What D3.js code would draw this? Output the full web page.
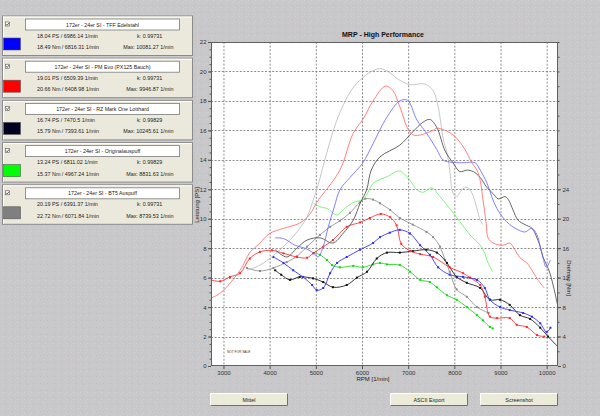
<!DOCTYPE html>
<html><head><meta charset="utf-8">
<script src="https://cdn.jsdelivr.net/npm/d3@7"></script>
<style>body{margin:0;background:#c9c8ca;} svg{display:block} text{font-family:"Liberation Sans",Arial,sans-serif;}</style>
</head><body><svg id="c" width="600" height="416"></svg>
<script>
// ---------- DATA ----------
const chartTitle = "MRP - High Performance";
const xTicks = [3000,4000,5000,6000,7000,8000,9000,10000];
const yLeftTicks = [0,2,4,6,8,10,12,14,16,18,20,22];
const yRightTicks = [0,4,8,12,16,20,24];

const legendTitles = ["172er - 24er SI - TFF Edelstahl","172er - 24er SI - PM Evo (PX125 Bauch)","172er - 24er SI - RZ Mark One Lotthard","172er - 24er SI - Originalauspuff","172er - 24er SI - BT5 Auspuff"];
const legendPS = ["18.04 PS / 6986.14 1/min","19.01 PS / 6509.39 1/min","16.74 PS / 7470.5 1/min","13.24 PS / 6811.02 1/min","20.19 PS / 6391.37 1/min"];
const legendK = ["k: 0.99731","k: 0.99731","k: 0.99829","k: 0.99829","k: 0.99731"];
const legendNm = ["18.49 Nm / 6816.31 1/min","20.66 Nm / 6408.98 1/min","15.79 Nm / 7393.61 1/min","15.37 Nm / 4967.24 1/min","22.72 Nm / 6071.84 1/min"];
const legendMax = ["Max: 10081.27 1/min","Max: 9946.87 1/min","Max: 10245.61 1/min","Max: 8831.63 1/min","Max: 8739.53 1/min"];
const buttonLabels = ["Mittel","ASCII Export","Screenshot"];

// power curves [rpm, PS]
const bluePowerRpm = [4120,4300,4550,4760,4940,5050,5160,5270,5400,5520,5740,6020,6240,6540,6820,6986,7190,7400,7620,7750,7900,8190,8450,8560,8710,8810,8920,9060,9200,9380,9530,9680,9790,9860,9920,9990,10081];
const bluePowerPS  = [8.7,8.65,8.2,8.0,7.7,7.4,8.1,9.45,10.8,11.95,12.8,13.8,15.1,16.9,18.0,18.04,16.7,15.8,14.7,14.0,13.85,13.8,13.8,13.3,12.4,11.5,10.7,10.05,9.6,9.25,9.1,9.35,8.9,8.1,7.35,6.7,7.2];
const redPowerRpm = [2730,2950,3360,3570,3790,4000,4300,4650,4870,5020,5520,5810,6030,6240,6509,6670,6820,7100,7540,7620,7970,8230,8380,8490,8560,8620,8690,8730,8840,9060,9200,9310,9420,9570,9700,9820,9947];
const redPowerPS  = [4.6,5.0,6.5,7.7,8.35,9.0,9.35,9.7,10.3,11.1,13.3,15.8,16.8,18.0,19.01,18.7,17.6,15.7,16.0,16.15,15.7,14.7,13.8,13.3,12.6,11.3,9.7,8.7,8.35,8.2,8.35,7.9,7.35,7.0,6.4,5.8,5.3];
const blackPowerRpm = [4120,4370,4590,4810,5090,5370,5590,5810,5960,6100,6200,6390,6820,7100,7320,7470,7620,7800,7970,8120,8270,8410,8560,8700,8840,8950,9100,9170,9270,9380,9530,9680,9790,9860,9920,10000,10070,10180,10245];
const blackPowerPS  = [7.9,7.4,8.0,8.55,8.7,8.35,9.0,9.9,11.05,11.95,13.3,14.2,15.0,15.9,16.55,16.74,16.2,14.6,13.8,13.2,13.3,13.2,12.8,12.15,11.7,11.35,11.5,11.3,10.6,9.9,9.6,9.35,8.7,8.1,7.4,6.85,6.3,4.95,4.0];
const greenPowerRpm = [4950,5100,5240,5460,5590,5810,6020,6100,6240,6540,6811,7040,7190,7330,7510,7690,7900,8120,8340,8560,8660,8730,8832];
const greenPowerPS  = [11.05,10.8,10.7,10.25,10.6,11.1,11.3,11.6,12.4,12.85,13.24,12.6,11.95,11.8,12.1,11.5,10.7,9.8,8.9,8.2,7.65,7.0,6.4];
const grayPowerRpm = [3510,3790,4080,4440,4650,4810,4920,5050,5240,5520,5890,6391,6820,7040,7360,7540,7650,7760,7840,7900,7970,8050,8160,8270,8380,8490,8560,8620];
const grayPowerPS  = [6.5,6.85,7.5,8.55,9.35,10.1,11.05,12.3,14.5,17.2,19.2,20.19,19.4,19.1,19.15,18.7,17.6,15.4,14.5,13.3,11.75,11.5,11.95,12.15,11.75,10.7,9.9,9.6];

// torque curves [rpm, Nm]
const blueTorqueRpm = [4080,4300,4510,4720,4920,5020,5160,5310,5460,5670,5960,6240,6390,6600,6816,7040,7260,7470,7650,7900,8190,8490,8660,8770,8990,9200,9490,9680,9860,10000,10081];
const blueTorqueNm  = [14.8,14.0,13.0,12.1,11.0,10.3,10.6,12.6,14.0,14.8,15.8,16.7,17.5,18.1,18.49,18.0,16.4,15.1,13.4,12.4,12.1,11.7,10.6,9.0,8.0,7.6,7.2,6.7,5.8,4.6,5.2];
const redTorqueRpm = [2730,2930,3140,3360,3570,3790,4050,4300,4590,4810,4940,5160,5370,5670,5960,6170,6409,6610,6750,6850,7050,7260,7540,7900,8190,8340,8560,8660,8770,8920,9200,9350,9570,9790,9947];
const redTorqueNm  = [11.7,11.5,12.1,12.6,14.6,15.5,15.7,15.3,14.8,14.7,15.3,16.2,17.1,18.9,19.5,20.1,20.66,20.2,19.1,16.6,15.6,15.2,14.8,13.4,12.6,12.0,11.0,9.4,6.7,6.5,6.5,5.6,5.3,4.2,4.0];
const blackTorqueRpm = [4120,4250,4440,4650,4940,5160,5370,5670,5890,6110,6320,6540,6820,7100,7393,7620,7840,8050,8270,8560,8770,8990,9200,9420,9640,9860,10030,10245];
const blackTorqueNm  = [13.0,12.4,11.7,12.1,11.9,11.4,10.7,11.0,12.0,12.8,14.6,15.4,15.4,15.6,15.79,15.4,14.0,12.1,11.3,10.6,9.0,9.0,8.3,6.9,6.4,5.2,4.0,2.6];
const greenTorqueRpm = [4967,5090,5240,5350,5520,5810,6020,6240,6390,6540,6820,7040,7260,7470,7620,7840,8050,8270,8490,8620,8770,8832];
const greenTorqueNm  = [15.37,15.1,14.4,13.7,13.4,13.6,13.4,13.8,14.0,13.8,13.7,12.8,11.7,11.4,10.7,9.6,9.0,8.0,6.9,6.2,5.3,5.1];
const grayTorqueRpm = [3510,3790,4080,4370,4590,4810,5090,5310,5520,5740,5950,6072,6240,6390,6610,6820,7100,7400,7540,7690,7800,7900,8050,8270,8490,8740];
const grayTorqueNm  = [13.3,12.9,13.3,14.1,14.9,16.2,17.8,18.9,19.7,20.8,22.2,22.72,22.6,22.1,21.2,20.1,19.2,18.2,17.5,16.2,14.4,12.8,10.4,9.4,8.0,7.2];

// ---------- STYLE ----------
const swatchColors = ["#0000ff","#ff0000","#000020","#00ff00","#7f7f7f"];
const powerColors  = ["#6a6aff","#ff6a6a","#4a4a4a","#6aee6a","#bcbcbc"];
const torqueColors = ["#2a2aff","#ff2a2a","#111111","#10d810","#8c8c8c"];

const svg = d3.select("#c");
const W=600,H=416;
const P = {l:211, r:558, t:42, b:366};

// background with speckle texture
const defs = svg.append("defs");
const pat = defs.append("pattern").attr("id","speck").attr("width",7).attr("height",7).attr("patternUnits","userSpaceOnUse");
pat.append("rect").attr("width",7).attr("height",7).attr("fill","#c8c7c9");
pat.append("rect").attr("x",1).attr("y",2).attr("width",1).attr("height",1).attr("fill","#d8ccd8");
pat.append("rect").attr("x",5).attr("y",5).attr("width",1).attr("height",1).attr("fill","#bdbdbd");
pat.append("rect").attr("x",3).attr("y",0).attr("width",1).attr("height",1).attr("fill","#d4d0d4");
svg.append("rect").attr("width",W).attr("height",H).attr("fill","url(#speck)");

const x = d3.scaleLinear().domain([2730,10245]).range([P.l,P.r]);
const yL = d3.scaleLinear().domain([0,22]).range([P.b,P.t]);
const yR = d3.scaleLinear().domain([0,44]).range([P.b,P.t]);

// plot area
svg.append("rect").attr("x",P.l).attr("y",P.t).attr("width",P.r-P.l).attr("height",P.b-P.t).attr("fill","#fff");
defs.append("clipPath").attr("id","clip").append("rect").attr("x",P.l).attr("y",P.t).attr("width",P.r-P.l).attr("height",P.b-P.t);

// grid
const grid = svg.append("g").attr("stroke","#707070").attr("stroke-width",0.8).attr("stroke-dasharray","2,1.6");
grid.selectAll("line.v").data(xTicks).join("line").attr("x1",d=>x(d)+0.5).attr("x2",d=>x(d)+0.5).attr("y1",P.t).attr("y2",P.b);
grid.selectAll("line.h").data(yLeftTicks.filter(d=>d>0&&d<22)).join("line").attr("y1",d=>Math.round(yL(d))+0.5).attr("y2",d=>Math.round(yL(d))+0.5).attr("x1",P.l).attr("x2",P.r);

// curves
const line = d3.line().x(d=>x(d[0])).y(d=>d[1]).curve(d3.curveCatmullRom.alpha(0.5));
const zip = (a,b,f)=>a.map((v,i)=>[v,f(b[i])]);
const power = [[bluePowerRpm,bluePowerPS],[redPowerRpm,redPowerPS],[blackPowerRpm,blackPowerPS],[greenPowerRpm,greenPowerPS],[grayPowerRpm,grayPowerPS]];
const torque = [[blueTorqueRpm,blueTorqueNm],[redTorqueRpm,redTorqueNm],[blackTorqueRpm,blackTorqueNm],[greenTorqueRpm,greenTorqueNm],[grayTorqueRpm,grayTorqueNm]];
const cg = svg.append("g").attr("clip-path","url(#clip)");
const order = [4,3,2,1,0];
order.forEach(i=>{
  const pts = zip(torque[i][0],torque[i][1],yR);
  cg.append("path").attr("d",line(pts)).attr("fill","none").attr("stroke",torqueColors[i]).attr("stroke-width",0.85);
  cg.selectAll(null).data(pts).join("rect").attr("x",d=>x(d[0])-1).attr("y",d=>d[1]-1).attr("width",2).attr("height",2).attr("fill",torqueColors[i]);
});
order.forEach(i=>{
  const pts = zip(power[i][0],power[i][1],yL);
  cg.append("path").attr("d",line(pts)).attr("fill","none").attr("stroke",powerColors[i]).attr("stroke-width",0.85);
});

// border
svg.append("rect").attr("x",P.l+0.5).attr("y",P.t+0.5).attr("width",P.r-P.l-1).attr("height",P.b-P.t-1).attr("fill","none").attr("stroke","#606060");

// axes
const axStyle = g=>{g.selectAll("path").attr("stroke","#555"); g.selectAll("line").attr("stroke","#555"); g.selectAll("text").attr("font-size","6px").attr("fill","#333").attr("font-family","Liberation Sans, Arial, sans-serif");};
svg.append("g").attr("transform",`translate(${P.l},0)`).call(d3.axisLeft(yL).tickValues(yLeftTicks).tickSize(3).tickPadding(1.5)).call(axStyle).call(g=>g.select(".domain").remove());
svg.append("g").attr("transform",`translate(${P.l},0)`).call(d3.axisLeft(yL).tickValues(d3.range(0,22.01,0.5)).tickSize(1.5).tickFormat("")).call(axStyle).call(g=>g.select(".domain").remove());
svg.append("g").attr("transform",`translate(${P.r},0)`).call(d3.axisRight(yR).tickValues(yRightTicks).tickSize(3).tickPadding(1.5)).call(axStyle).call(g=>g.select(".domain").remove());
svg.append("g").attr("transform",`translate(${P.r},0)`).call(d3.axisRight(yR).tickValues(d3.range(0,44.01,2)).tickSize(1.5).tickFormat("")).call(axStyle).call(g=>g.select(".domain").remove());
svg.append("g").attr("transform",`translate(0,${P.b})`).call(d3.axisBottom(x).tickValues(xTicks).tickSize(3).tickPadding(1.5).tickFormat(d3.format("d"))).call(axStyle).call(g=>g.select(".domain").remove());

// titles
svg.append("text").attr("x",383).attr("y",37).attr("text-anchor","middle").attr("font-size","7px").attr("font-weight","bold").attr("fill","#111").text(chartTitle);
svg.append("text").attr("x",373).attr("y",381).attr("text-anchor","middle").attr("font-size","6px").attr("fill","#222").text("RPM [1/min]");
svg.append("text").attr("transform","translate(199,205) rotate(-90)").attr("text-anchor","middle").attr("font-size","6px").attr("fill","#222").text("Leistung [PS]");
svg.append("text").attr("transform","translate(567,278) rotate(90)").attr("text-anchor","middle").attr("font-size","6px").attr("fill","#222").text("Drehmo [Nm]");
svg.append("text").attr("x",227).attr("y",352.5).attr("font-size","3.2px").attr("fill","#333").text("NOT FOR SALE");

// legend panels
const lg = svg.append("g");
legendTitles.forEach((t,i)=>{
  const top = 15.5 + i*42.2;
  const g = lg.append("g").attr("transform",`translate(0,${top})`);
  g.append("rect").attr("x",2.5).attr("y",0.5).attr("width",190).attr("height",39.5).attr("fill","#ebe9db").attr("stroke","#8a8a8a");
  g.append("line").attr("x1",3).attr("x2",192).attr("y1",1.5).attr("y2",1.5).attr("stroke","#fff");
  g.append("line").attr("x1",3.5).attr("x2",3.5).attr("y1",1).attr("y2",39.5).attr("stroke","#fff");
  // checkbox
  g.append("rect").attr("x",5.5).attr("y",6.5).attr("width",4).attr("height",4).attr("fill","#fff").attr("stroke","#555").attr("stroke-width",0.6);
  g.append("path").attr("d","M6.3,8.5 L7.3,9.7 L9,7.3").attr("fill","none").attr("stroke","#222").attr("stroke-width",0.7);
  // title box
  g.append("rect").attr("x",25.5).attr("y",3.5).attr("width",154).attr("height",11).attr("fill","#fff").attr("stroke","#7a7a7a").attr("stroke-width",0.8);
  g.append("text").attr("x",102.5).attr("y",11).attr("text-anchor","middle").attr("font-size","5.3px").attr("fill","#222").text(t);
  // swatch
  g.append("rect").attr("x",3.5).attr("y",22.5).attr("width",17).attr("height",12).attr("fill",swatchColors[i]).attr("stroke","#555").attr("stroke-width",0.6);
  g.append("text").attr("x",37).attr("y",22).attr("font-size","5.4px").attr("fill","#222").text(legendPS[i]);
  g.append("text").attr("x",137).attr("y",22).attr("font-size","5.4px").attr("fill","#222").text(legendK[i]);
  g.append("text").attr("x",37).attr("y",33.5).attr("font-size","5.4px").attr("fill","#222").text(legendNm[i]);
  g.append("text").attr("x",173.5).attr("y",33.5).attr("text-anchor","end").attr("font-size","5.4px").attr("fill","#222").text(legendMax[i]);
});

// buttons
const btnX = [210,390,480];
buttonLabels.forEach((b,i)=>{
  const g = svg.append("g").attr("transform",`translate(${btnX[i]},393)`);
  g.append("rect").attr("x",0.5).attr("y",0.5).attr("width",77).attr("height",12).attr("fill","#ecead8").attr("stroke","#fff");
  g.append("path").attr("d","M0.5,12.5 H77.5 V0.5").attr("fill","none").attr("stroke","#707070");
  g.append("text").attr("x",39).attr("y",8.6).attr("text-anchor","middle").attr("font-size","5.4px").attr("fill","#222").text(b);
});
</script></body></html>
